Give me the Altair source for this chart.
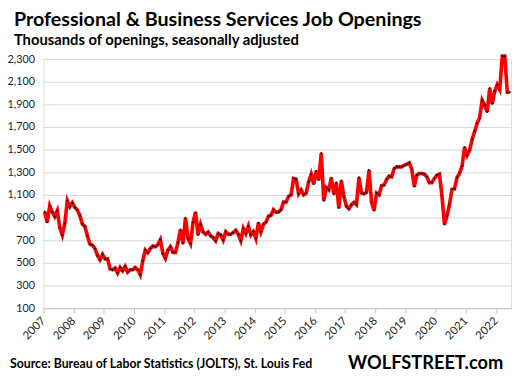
import altair as alt
import pandas as pd

years = list(range(2007, 2023))
v2007 = [952, 859, 1004, 949, 909, 961, 813, 746, 848, 1048, 996, 1030]
v2008 = [990, 967, 917, 842, 822, 737, 665, 656, 627, 566, 529, 575]
v2009 = [535, 535, 447, 439, 453, 410, 459, 430, 468, 418, 439, 439]
v2010 = [459, 439, 395, 517, 613, 590, 627, 648, 642, 662, 705, 584]
v2011 = [540, 613, 642, 593, 593, 679, 793, 671, 897, 714, 671, 859]
v2012 = [947, 747, 840, 773, 753, 773, 738, 724, 695, 759, 747, 701]
v2013 = [776, 753, 753, 767, 788, 753, 695, 805, 759, 825, 747, 776]
v2014 = [715, 854, 773, 840, 860, 912, 921, 970, 947, 950, 970, 1037]
v2015 = [1037, 1087, 1101, 1246, 1240, 1110, 1145, 1101, 1116, 1217, 1284, 1197]
v2016 = [1313, 1232, 1470, 1049, 1165, 1145, 1252, 1107, 1209, 985, 1226, 1087]
v2017 = [1000, 979, 1014, 1034, 1014, 1255, 1116, 1110, 1122, 1319, 1037, 962]
v2018 = [1116, 1101, 1182, 1188, 1238, 1267, 1261, 1333, 1348, 1348, 1348, 1362]
v2019 = [1371, 1383, 1328, 1174, 1275, 1290, 1290, 1284, 1261, 1209, 1209, 1246]
v2020 = [1275, 1284, 1093, 840, 913, 1014, 1150, 1153, 1255, 1290, 1354, 1522]
v2021 = [1449, 1493, 1589, 1661, 1734, 1783, 1937, 1893, 1833, 2044, 1905, 2016]
v2022 = [2074, 2030, 2326, 2326, 2007, 2007]

y_ticks = [100, 300, 500, 700, 900, 1100, 1300, 1500, 1700, 1900, 2100, 2300]

title = "Professional & Business Services Job Openings"
subtitle = "Thousands of openings, seasonally adjusted"
source = "Source: Bureau of Labor Statistics (JOLTS), St. Louis Fed"
brand = "WOLFSTREET.com"

values = (v2007 + v2008 + v2009 + v2010 + v2011 + v2012 + v2013 + v2014 +
          v2015 + v2016 + v2017 + v2018 + v2019 + v2020 + v2021 + v2022)
df = pd.DataFrame({"m": list(range(len(values))), "v": values})

n_months = len(values)
x_ticks = [12 * (y - 2007) - 0.5 for y in years]

FONT = "Lato"

x = alt.X("m:Q",
          scale=alt.Scale(domain=[-0.5, n_months - 0.5], nice=False, zero=False),
          axis=alt.Axis(values=x_ticks, title=None, grid=False,
                        labelExpr="format(2007 + (datum.value + 0.5) / 12, 'd')",
                        labelAngle=-45, labelAlign="right", labelBaseline="middle",
                        labelFont=FONT, labelFontSize=11.5, labelColor="#222222",
                        labelPadding=6, tickSize=5, tickColor="#c8c8c8",
                        domainColor="#c8c8c8", labelOverlap=False, labelFlush=False))
y = alt.Y("v:Q",
          scale=alt.Scale(domain=[100, 2300], nice=False, zero=False),
          axis=alt.Axis(values=y_ticks, title=None, format=",d", grid=True,
                        gridColor="#d9d9d9", gridWidth=1, domain=False, ticks=False,
                        labelFont=FONT, labelFontSize=11, labelColor="#1b1b30",
                        labelPadding=9))

base = alt.Chart(df)
line = base.mark_line(color="#ff0000", strokeWidth=3.7, clip=False).encode(x=x, y=y)
pts = base.mark_circle(color="#1a1a1a", size=5, opacity=1, clip=False).encode(x=x, y=y)

one = alt.Chart(pd.DataFrame({"a": [0]}))
t1 = one.mark_text(align="left", baseline="alphabetic", font=FONT, fontWeight="bold",
                   fontSize=20, color="#000000").encode(
    x=alt.value(-30), y=alt.value(-34), text=alt.value(title))
t2 = one.mark_text(align="left", baseline="alphabetic", font=FONT, fontWeight="bold",
                   fontSize=15, color="#000000").encode(
    x=alt.value(-30), y=alt.value(-14), text=alt.value(subtitle))
t3 = one.mark_text(align="left", baseline="alphabetic", font=FONT, fontWeight="bold",
                   fontSize=12.5, color="#000000").encode(
    x=alt.value(-34), y=alt.value(314), text=alt.value(source))
t4 = one.mark_text(align="right", baseline="alphabetic", font=FONT, fontWeight="bold",
                   fontSize=18.5, color="#000000").encode(
    x=alt.value(467), y=alt.value(315), text=alt.value(brand))

chart = alt.layer(line, pts, t1, t2, t3, t4).properties(
    width=475, height=253,
    autosize=alt.AutoSizeParams(type="none"),
    padding={"left": 36, "top": 49, "right": 5, "bottom": 67},
).configure_view(stroke=None).configure(background="white")

chart.save("out.html", embed_options={"renderer": "svg", "actions": False})
